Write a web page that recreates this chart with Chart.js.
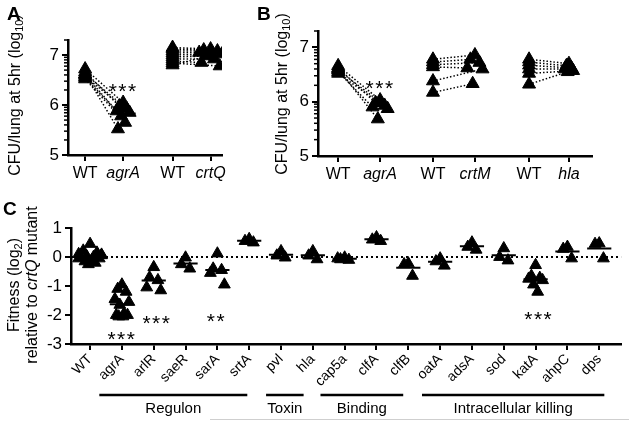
<!DOCTYPE html>
<html>
<head>
<meta charset="utf-8">
<script src="https://cdn.jsdelivr.net/npm/chart.js@4.4.0/dist/chart.umd.min.js"></script>
<style>
  body { margin: 0; background: #fff; width: 629px; height: 421px; position: relative; overflow: hidden; }
  canvas { position: absolute; }
</style>
</head>
<body>
<canvas id="chartA" width="240" height="195" style="left:0;top:0"></canvas>
<canvas id="chartB" width="384" height="195" style="left:245px;top:0"></canvas>
<canvas id="chartC" width="629" height="226" style="left:0;top:195px"></canvas>
<script>
// ---------- data : panel A ----------
const labelsA = ["WT", "agrA", "WT", "crtQ"];
const posA = [0, 1, 2.3, 3.3];
const wtA1 = [6.72, 6.66, 6.62, 6.6, 6.57, 6.55, 6.52, 6.62];
const agrA_A = [6.05, 5.98, 5.92, 5.88, 5.85, 5.78, 5.65, 5.52];
const wtA2 = [7.15, 7.12, 7.08, 7.04, 7.0, 6.96, 6.92, 6.88, 6.84, 6.8];
const crtQ_A = [7.12, 7.1, 7.08, 7.05, 7.02, 6.98, 6.92, 6.85, 6.78, 7.0];

// ---------- data : panel B ----------
const labelsB = ["WT", "agrA", "WT", "crtM", "WT", "hla"];
const posB = [0, 1, 2.26, 3.26, 4.55, 5.5];
const wtB1 = [6.66, 6.62, 6.58, 6.55, 6.52, 6.6];
const agrA_B = [6.03, 5.98, 5.93, 5.9, 5.87, 5.68];
const wtB2 = [6.78, 6.73, 6.68, 6.64, 6.38, 6.17];
const crtM_B = [6.86, 6.78, 6.72, 6.62, 6.6, 6.33];
const wtB3 = [6.78, 6.73, 6.67, 6.6, 6.52, 6.32];
const hla_B = [6.7, 6.66, 6.62, 6.6, 6.57, 6.55];

// ---------- data : panel C ----------
const catsC = ["WT", "agrA", "arlR", "saeR", "sarA", "srtA", "pvl", "hla", "cap5a", "clfA",
               "clfB", "oatA", "adsA", "sod", "katA", "ahpC", "dps"];
const fitC = [
  [0.45, 0.22, 0.15, 0.1, 0.06, 0.03, 0.0, -0.02, -0.05, -0.1, -0.15, -0.2, -0.25, 0.08, -0.05],
  [-0.95, -1.1, -1.2, -1.45, -1.55, -1.65, -1.95, -2.0, -2.0, -2.05, -2.05],
  [-0.35, -0.7, -0.8, -1.05, -1.15],
  [-0.02, -0.25, -0.4],
  [0.12, -0.4, -0.45, -0.55, -0.95],
  [0.62, 0.55, 0.5],
  [0.2, 0.05, -0.02],
  [0.2, 0.05, -0.08],
  [-0.02, -0.08, -0.1, -0.05],
  [0.68, 0.6, 0.55],
  [-0.22, -0.25, -0.65],
  [-0.05, -0.15, -0.3],
  [0.5, 0.35, 0.25],
  [0.3, 0.0, -0.12],
  [-0.28, -0.65, -0.72, -0.75, -0.8, -0.95, -1.2],
  [0.35, 0.28, -0.05],
  [0.47, 0.45, -0.05]
];
const groupsC = ["Regulon", "Toxin", "Binding", "Intracellular killing"];
const groupSpanC = [[0.29, 4.94], [5.53, 6.71], [7.24, 9.84], [10.43, 16.16]];
const starsC = [["***", 1, -2.65], ["***", 2.1, -2.1], ["**", 3.97, -2.03], ["***", 14.1, -1.97]];

const FONT = "'Liberation Sans', Arial, sans-serif";
const JIT = [0, -0.6, 0.6, -1, 1, -0.3, 0.3, -0.8, 0.8, 0.15, -0.45, 0.45, -0.15, 1, -1];

// helpers
function pts(x, vals, w) {
  return vals.map((v, k) => ({ x: x + JIT[k % JIT.length] * w, y: v }));
}
function triSet(data, r) {
  return { data, pointStyle: "triangle", pointRadius: r, pointHoverRadius: r,
           backgroundColor: "#000", borderColor: "#000", borderWidth: 1, order: 1 };
}
function lineSet(data, dash, w, order) {
  return { data, showLine: true, pointRadius: 0, borderColor: "#000", borderWidth: w,
           borderDash: dash, order };
}
function pairSets(a, b) {
  return a.map((p, i) => lineSet([p, b[i]], [1.5, 2], 1.5, 2));
}
function mean(vals) { return vals.reduce((s, v) => s + v, 0) / vals.length; }
function meanSet(x, vals, half) {
  const m = mean(vals);
  return lineSet([{ x: x - half, y: m }, { x: x + half, y: m }], [], 2, 0);
}

function drawRuns(ctx, runs, cx, cy) {
  ctx.save();
  ctx.translate(cx, cy);
  ctx.rotate(-Math.PI / 2);
  let total = 0;
  runs.forEach(r => { ctx.font = r[1]; total += ctx.measureText(r[0]).width; });
  let x = -total / 2;
  ctx.textBaseline = "middle";
  ctx.textAlign = "left";
  ctx.fillStyle = "#000";
  runs.forEach(r => {
    ctx.font = r[1];
    ctx.fillText(r[0], x, r[2] || 0);
    x += ctx.measureText(r[0]).width;
  });
  ctx.restore();
}
function drawStars(chart, txt, xv, yv) {
  const ctx = chart.ctx;
  const x = chart.scales.x.getPixelForValue(xv), y = chart.scales.y.getPixelForValue(yv);
  ctx.save();
  ctx.font = "21px " + FONT;
  ctx.letterSpacing = "1.5px";
  ctx.textAlign = "center";
  ctx.fillStyle = "#000";
  ctx.fillText(txt, x, y + 12);
  ctx.restore();
}
function panelLetter(ctx, t, x, y) {
  ctx.save();
  ctx.font = "bold 19px " + FONT;
  ctx.fillStyle = "#000";
  ctx.fillText(t, x, y);
  ctx.restore();
}
function minorTicks(chart) {
  const ctx = chart.ctx, ys = chart.scales.y, x0 = chart.chartArea.left;
  ctx.save();
  ctx.strokeStyle = "#000";
  ctx.lineWidth = 1.5;
  [5, 6, 7].forEach(d => {
    for (let k = 2; k <= 9; k++) {
      const v = d + Math.log10(k);
      if (v > 7.302) break;
      const p = ys.getPixelForValue(v);
      ctx.beginPath(); ctx.moveTo(x0 - 4, p); ctx.lineTo(x0, p); ctx.stroke();
    }
  });
  ctx.restore();
}

const axisGrid = { drawOnChartArea: false, tickLength: 6, color: "#000", tickWidth: 2, lineWidth: 2 };
const axisBorder = { color: "#000", width: 2.5 };

function pairedScales(pos, labels, xmin, xmax, yWidth, xHeight) {
  return {
    x: {
      type: "linear", min: xmin, max: xmax,
      afterBuildTicks: s => { s.ticks = pos.map(v => ({ value: v })); },
      afterFit: s => { s.height = xHeight; },
      ticks: {
        callback: (v, i) => labels[i], color: "#000", padding: 3, maxRotation: 0, autoSkip: false,
        font: c => ({ family: FONT, size: 16, style: c.index % 2 ? "italic" : "normal" })
      },
      grid: axisGrid, border: axisBorder
    },
    y: {
      type: "linear", min: 5, max: 7.301,
      afterBuildTicks: s => { s.ticks = [5, 6, 7].map(v => ({ value: v })); },
      afterFit: s => { s.width = yWidth; },
      ticks: { color: "#000", padding: 3, font: { family: FONT, size: 17 } },
      grid: axisGrid, border: axisBorder
    }
  };
}

const baseOpts = {
  responsive: false, animation: false, events: [],
  plugins: { legend: { display: false }, tooltip: { enabled: false } }
};

// ---------- panel A ----------
const pA1 = pts(posA[0], wtA1, 0), pA2 = pts(posA[1], agrA_A, 0.17);
const pA3 = pts(posA[2], wtA2, 0), pA4 = pts(posA[3], crtQ_A, 0.3);
new Chart(document.getElementById("chartA"), {
  type: "scatter",
  data: {
    datasets: [triSet(pA1, 7.5), triSet(pA2, 7.5), triSet(pA3, 7.5), triSet(pA4, 7.5),
      ...pairSets(pA1, pA2), ...pairSets(pA3, pA4), meanSet(posA[1] + 0.08, agrA_A, 0.25)]
  },
  options: {
    ...baseOpts,
    layout: { padding: { top: 40, right: 18, left: 0, bottom: 0 } },
    scales: pairedScales(posA, labelsA, -0.45, 3.6, 68, 40)
  },
  plugins: [{
    id: "extrasA",
    afterDraw(chart) {
      const ctx = chart.ctx;
      minorTicks(chart);
      drawStars(chart, "***", posA[1], 6.39);
      drawRuns(ctx, [["CFU/lung at 5hr (log", "16px " + FONT], ["10", "11px " + FONT, 4], [")", "16px " + FONT]], 16, 95);
      panelLetter(ctx, "A", 7, 20);
    }
  }]
});

// ---------- panel B ----------
const pB1 = pts(posB[0], wtB1, 0), pB2 = pts(posB[1], agrA_B, 0.18);
const pB3 = pts(posB[2], wtB2, 0), pB4 = pts(posB[3], crtM_B, 0.18);
const pB5 = pts(posB[4], wtB3, 0), pB6 = pts(posB[5], hla_B, 0.1);
new Chart(document.getElementById("chartB"), {
  type: "scatter",
  data: {
    datasets: [triSet(pB1, 7.5), triSet(pB2, 7.5), triSet(pB3, 7.5), triSet(pB4, 7.5), triSet(pB5, 7.5), triSet(pB6, 7.5),
      ...pairSets(pB1, pB2), ...pairSets(pB3, pB4), ...pairSets(pB5, pB6)]
  },
  options: {
    ...baseOpts,
    layout: { padding: { top: 31, right: 37, left: 0, bottom: 0 } },
    scales: pairedScales(posB, labelsB, -0.48, 6.05, 73, 39)
  },
  plugins: [{
    id: "extrasB",
    afterDraw(chart) {
      const ctx = chart.ctx;
      minorTicks(chart);
      drawStars(chart, "***", posB[1], 6.35);
      drawRuns(ctx, [["CFU/lung at 5hr (log", "16px " + FONT], ["10", "11px " + FONT, 4], [")", "16px " + FONT]], 38, 94);
      panelLetter(ctx, "B", 12, 20);
    }
  }]
});

// ---------- panel C ----------
const setsC = [];
fitC.forEach((vals, i) => {
  setsC.push(triSet(pts(i, vals, i === 0 ? 0.36 : 0.22), 6.8));
  setsC.push(meanSet(i, vals, 0.38));
});
setsC.push(lineSet([{ x: -0.6, y: 0 }, { x: 16.7, y: 0 }], [2, 3], 2, 3));

new Chart(document.getElementById("chartC"), {
  type: "scatter",
  data: { datasets: setsC },
  options: {
    ...baseOpts,
    layout: { padding: { top: 33, right: 0, left: 0, bottom: 0 } },
    scales: {
      x: {
        type: "linear", min: -0.6, max: 16.69,
        afterBuildTicks: s => { s.ticks = catsC.map((c, i) => ({ value: i })); },
        afterFit: s => { s.height = 77; },
        ticks: { callback: (v, i) => catsC[i], color: "#000", padding: 1, minRotation: 45, maxRotation: 45,
                 autoSkip: false, font: { family: FONT, size: 14 } },
        grid: axisGrid, border: axisBorder
      },
      y: {
        type: "linear", min: -3, max: 1,
        afterBuildTicks: s => { s.ticks = [-3, -2, -1, 0, 1].map(v => ({ value: v })); },
        afterFit: s => { s.width = 71; },
        ticks: { color: "#000", padding: 3, font: { family: FONT, size: 17 } },
        grid: axisGrid, border: axisBorder
      }
    }
  },
  plugins: [{
    id: "extrasC",
    afterDraw(chart) {
      const ctx = chart.ctx, xs = chart.scales.x;
      starsC.forEach(s => drawStars(chart, s[0], s[1], s[2]));
      drawRuns(ctx, [["Fitness (log", "16px " + FONT], ["2", "11px " + FONT, 4], [")", "16px " + FONT]], 15, 90);
      drawRuns(ctx, [["relative to ", "16px " + FONT], ["crtQ", "italic 16px " + FONT], [" mutant", "16px " + FONT]], 33, 90);
      panelLetter(ctx, "C", 3, 20);
      // category groups under the axis
      ctx.save();
      ctx.strokeStyle = "#000";
      ctx.fillStyle = "#000";
      ctx.lineWidth = 2.5;
      ctx.font = "15px " + FONT;
      ctx.textAlign = "center";
      ctx.textBaseline = "middle";
      groupsC.forEach((g, i) => {
        const a = xs.getPixelForValue(groupSpanC[i][0]), b = xs.getPixelForValue(groupSpanC[i][1]);
        ctx.beginPath(); ctx.moveTo(a, 200); ctx.lineTo(b, 200); ctx.stroke();
        ctx.fillText(g, (a + b) / 2, 214);
      });
      // faint frame line at the bottom of the figure
      ctx.strokeStyle = "#cfcfcf";
      ctx.lineWidth = 1;
      ctx.beginPath(); ctx.moveTo(210, 224.5); ctx.lineTo(629, 224.5); ctx.stroke();
      ctx.restore();
    }
  }]
});
</script>
</body>
</html>
